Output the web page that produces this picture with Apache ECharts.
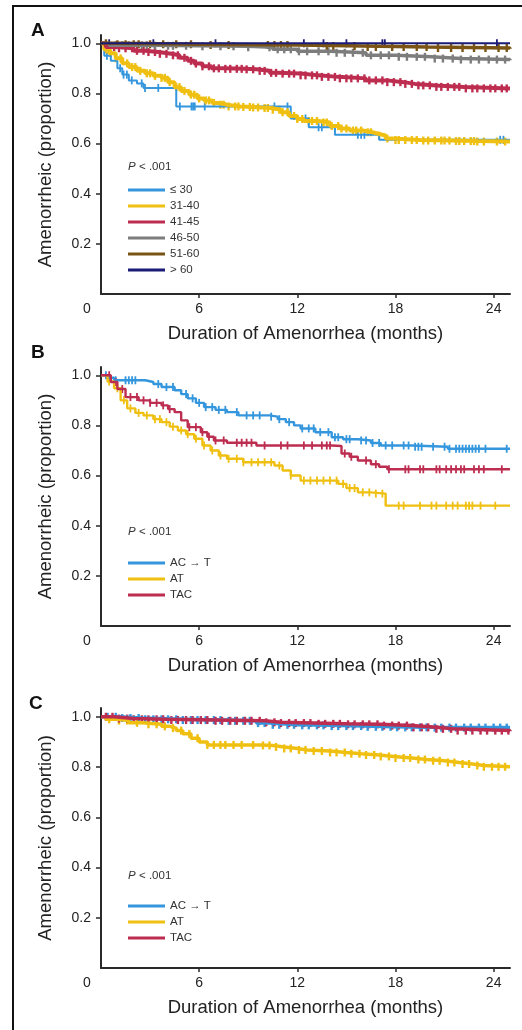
<!DOCTYPE html>
<html>
<head>
<meta charset="utf-8">
<script src="https://cdn.jsdelivr.net/npm/echarts@6/dist/echarts.min.js"></script>
<style>
html,body{margin:0;padding:0;background:#fff;}
#chart{width:522px;height:1030px;}
</style>
</head>
<body>
<div id="chart"></div>
<script>
// ---------- tick labels ----------
const monthTicks = [0, 6, 12, 18, 24];
const propTicks = [0.2, 0.4, 0.6, 0.8, 1.0];
const xTitle = 'Duration of Amenorrhea (months)';
const yTitle = 'Amenorrheic (proportion)';
const pText = '< .001';

// ---------- Panel A: age groups ----------
const namesA = ['≤ 30', '31-40', '41-45', '46-50', '51-60', '> 60'];
const A_le30 = [[0,1],[0.2,0.95],[0.6,0.93],[1.0,0.9],[1.3,0.875],[1.7,0.852],[2.2,0.84],[2.6,0.822],[4.6,0.748],[11.6,0.7],[12.7,0.665],[14.3,0.635],[17.0,0.615],[25,0.615]];
const A_31_40 = [[0,1],[0.2,0.975],[0.5,0.96],[0.9,0.94],[1.3,0.92],[1.7,0.905],[2.2,0.89],[2.7,0.88],[3.2,0.87],[3.7,0.862],[4.1,0.845],[4.5,0.825],[4.9,0.81],[5.4,0.795],[5.9,0.78],[6.3,0.772],[6.8,0.762],[7.3,0.755],[7.7,0.748],[8.5,0.746],[9.3,0.744],[9.8,0.742],[10.4,0.735],[11.0,0.725],[11.5,0.71],[12.0,0.698],[12.4,0.69],[13.3,0.684],[14.0,0.67],[14.6,0.66],[15.2,0.652],[16.0,0.645],[16.6,0.638],[17.0,0.632],[17.4,0.62],[17.8,0.614],[19.5,0.612],[21.5,0.61],[23.0,0.608],[25,0.608]];
const A_41_45 = [[0,1],[0.3,0.985],[1.0,0.98],[2.0,0.97],[2.7,0.965],[3.5,0.958],[4.3,0.952],[4.8,0.942],[5.3,0.93],[5.7,0.919],[6.2,0.908],[6.75,0.9],[7.5,0.898],[8.8,0.896],[9.5,0.89],[10.3,0.882],[10.8,0.879],[12.2,0.872],[13.3,0.866],[14.5,0.86],[16.2,0.852],[17.5,0.845],[18.5,0.838],[19.2,0.832],[20.5,0.826],[22.2,0.82],[25,0.818]];
const A_46_50 = [[0,1],[0.5,0.992],[3,0.99],[6,0.988],[9,0.984],[10.5,0.976],[12,0.968],[14,0.962],[16.2,0.952],[18,0.946],[20.2,0.939],[22,0.935],[25,0.932]];
const A_51_60 = [[0,1],[1,0.996],[6,0.993],[12,0.989],[16,0.985],[20,0.981],[25,0.978]];
const A_gt60 = [[0,1],[25,1]];

const A_le30_cens = [0.36,1.17,1.38,1.58,1.88,2.49,2.69,3.5,4.82,5.53,5.63,5.73,6.34,10.6,11.4,12.5,13.3,13.5,15.7,15.9,16.1,24.4,24.6];
const A_31_40_cens = [0.3,0.6,0.9,1.2,1.6,1.9,2.1,2.4,2.8,3.0,3.3,3.7,3.9,4.2,4.6,4.8,5.1,5.5,5.7,6.0,6.4,6.6,6.9,7.3,7.5,7.8,8.2,8.4,8.7,9.1,9.3,9.6,10.0,10.2,10.5,10.9,11.1,11.4,11.8,12.0,12.3,12.7,12.9,13.2,13.6,13.8,14.1,14.5,14.7,15.0,15.4,15.6,15.9,16.3,16.5,17.0,17.5,18.0,18.2,18.6,19.0,19.3,19.7,20.0,20.4,20.8,21.0,21.3,21.7,21.9,22.2,22.6,22.8,23.0,23.4,24.2,24.7];
const A_41_45_cens = [0.4,0.8,1.1,1.5,1.9,2.2,2.6,2.9,3.3,3.6,4.0,4.4,4.7,5.1,5.5,5.8,6.2,6.6,6.9,7.2,7.6,7.9,8.3,8.6,8.9,9.3,9.7,10.0,10.4,10.7,11.1,11.5,11.8,12.2,12.5,12.9,13.2,13.5,13.9,14.3,14.6,15.0,15.3,15.7,16.1,16.4,16.8,17.2,17.5,17.9,18.3,18.6,19.0,19.4,19.7,20.1,20.5,20.8,21.2,21.6,21.9,22.3,22.7,23.0,23.4,23.8,24.1,24.5,24.8];
const A_46_50_cens = [0.5,0.9,1.3,1.7,2.5,2.8,3.3,4.1,4.4,5.2,6.2,7.3,8.1,9.0,10.3,10.8,11.2,11.6,12.1,12.6,13.3,13.9,14.4,14.9,15.4,16.0,16.5,17.1,17.6,18.2,18.7,19.3,19.8,20.4,20.9,21.5,22.0,22.6,23.1,23.7,24.2,24.7];
const A_51_60_cens = [0.3,1.0,1.5,2.0,2.3,3.0,3.8,4.6,5.5,6.7,7.8,10.2,10.6,11.0,11.4,13.8,14.2,15.5,16.3,16.8,17.8,18.5,19.3,19.9,20.6,21.4,22.1,22.8,23.5,24.3,24.8];
const A_gt60_cens = [0.5,3.2,7.0,12.4,13.6,15.0,17.2,17.35,24.2];

// ---------- Panel B: regimens ----------
const namesBC = ['AC → T', 'AT', 'TAC'];
const B_ACT = [[0,1],[0.4,0.99],[0.8,0.98],[2.7,0.973],[3.2,0.965],[3.7,0.953],[4.5,0.94],[4.9,0.925],[5.3,0.908],[5.8,0.89],[6.3,0.873],[7.0,0.862],[7.7,0.853],[8.4,0.84],[10.3,0.835],[10.8,0.825],[11.3,0.813],[11.8,0.8],[12.2,0.788],[13.1,0.773],[14.1,0.753],[14.8,0.745],[15.7,0.74],[16.5,0.73],[17.1,0.72],[19.0,0.715],[21.2,0.707],[25,0.707]];
const B_AT = [[0,1],[0.4,0.975],[0.8,0.948],[1.2,0.9],[1.6,0.868],[2.1,0.85],[2.6,0.84],[3.2,0.825],[3.7,0.813],[4.2,0.795],[4.7,0.78],[5.2,0.765],[5.7,0.747],[6.2,0.72],[6.7,0.7],[7.2,0.68],[7.7,0.667],[8.7,0.653],[10.6,0.64],[11.1,0.62],[11.6,0.6],[12.2,0.58],[14.5,0.567],[15.0,0.55],[15.7,0.533],[16.5,0.528],[17.4,0.48],[25,0.48]];
const B_TAC = [[0,1],[0.6,0.973],[1.0,0.945],[1.5,0.913],[2.3,0.9],[3.0,0.89],[3.7,0.88],[4.1,0.865],[4.5,0.853],[4.9,0.82],[5.3,0.793],[6.1,0.773],[6.5,0.755],[6.9,0.74],[7.7,0.731],[9.5,0.72],[14.1,0.718],[14.7,0.688],[15.2,0.675],[15.7,0.66],[16.5,0.645],[17.0,0.635],[17.5,0.625],[25,0.625]];

const B_ACT_cens = [0.3,0.9,1.5,1.7,1.9,2.1,3.5,4.0,4.4,5.2,5.6,6.0,6.4,6.8,7.2,7.6,8.3,8.9,9.3,9.7,10.4,10.9,11.5,12.3,12.7,13.0,13.4,13.9,14.3,14.5,15.0,15.2,15.9,16.2,16.6,17.0,17.4,17.8,18.5,18.8,19.2,19.4,19.6,20.3,21.0,21.3,21.7,21.9,22.1,22.3,22.5,22.7,22.9,23.1,23.5,24.8];
const B_AT_cens = [0.5,1.0,1.4,1.8,2.3,2.8,3.3,3.6,4.0,4.4,4.9,5.3,5.8,6.3,6.8,7.3,7.8,8.3,8.7,9.2,9.6,10.0,10.4,10.9,11.6,12.4,12.8,13.2,13.6,14.0,14.4,14.8,15.2,15.5,16.0,16.4,16.8,17.2,18.2,18.5,19.5,20.2,20.5,21.1,21.5,21.8,22.3,22.5,22.7,23.2,24.1];
const B_TAC_cens = [0.5,0.9,1.3,1.8,2.2,2.6,3.0,3.4,3.8,4.2,5.4,5.8,6.2,6.6,7.0,7.5,8.3,8.6,8.9,9.2,10.0,11.0,11.4,12.4,12.9,13.5,13.8,14.0,14.9,15.3,16.2,16.8,17.6,18.6,18.8,19.5,19.7,20.5,20.7,21.1,21.4,21.7,22.0,22.2,22.8,23.1,23.4,24.5];

// ---------- Panel C: regimens ----------
const C_ACT = [[0,1],[1.0,0.995],[2.5,0.99],[5,0.987],[7.5,0.984],[9.5,0.975],[10.3,0.968],[12,0.966],[14,0.963],[16,0.96],[18,0.958],[20,0.957],[25,0.955]];
const C_AT = [[0,1],[0.3,0.99],[1.0,0.985],[1.7,0.976],[2.5,0.97],[3.7,0.962],[4.2,0.955],[4.6,0.945],[5.0,0.932],[5.5,0.915],[6.0,0.9],[6.5,0.888],[9.8,0.886],[10.5,0.88],[11.2,0.874],[12.0,0.868],[12.6,0.864],[14.0,0.858],[15.0,0.853],[15.9,0.848],[17.0,0.842],[17.9,0.836],[19.0,0.83],[19.9,0.825],[21.0,0.818],[21.9,0.812],[22.7,0.806],[23.4,0.801],[25,0.8]];
const C_TAC = [[0,1],[0.8,0.993],[2,0.99],[4,0.987],[7,0.984],[10,0.978],[11,0.975],[13,0.972],[15,0.97],[17,0.965],[19,0.958],[20.5,0.952],[21.5,0.945],[25,0.942]];

const C_ACT_cens = [0.4,0.9,1.3,1.8,2.3,2.7,3.2,3.7,4.1,4.6,5.0,5.5,5.9,6.4,6.9,7.3,7.8,8.2,8.7,9.1,9.6,10.0,10.5,10.9,11.4,11.8,12.3,12.7,13.2,13.6,14.1,14.5,15.0,15.4,15.9,16.3,16.8,17.2,17.7,18.1,18.6,19.0,19.5,19.9,20.4,20.8,21.3,21.7,22.2,22.6,23.1,23.5,24.0,24.4,24.8];
const C_AT_cens = [0.5,1.1,1.6,2.2,2.9,3.4,3.9,4.4,4.9,5.4,5.9,6.5,6.9,7.3,7.6,8.1,8.6,9.3,9.9,10.3,10.7,11.2,11.6,12.1,12.5,13.0,13.5,14.0,14.4,14.9,15.3,15.8,16.2,16.7,17.1,17.6,18.0,18.5,18.9,19.4,19.8,20.3,20.7,21.2,21.6,22.1,22.5,23.0,23.4,23.9,24.3,24.7];
const C_TAC_cens = [0.3,0.7,1.1,1.6,2.0,2.5,2.9,3.4,3.8,4.3,4.7,5.2,5.6,6.1,6.5,7.0,7.4,7.9,8.3,8.8,9.2,9.7,10.1,10.6,11.0,11.5,11.9,12.4,12.8,13.3,13.7,14.2,14.6,15.1,15.5,16.0,16.4,16.9,17.3,17.8,18.2,18.7,19.1,19.6,20.0,20.5,20.9,21.4,21.8,22.3,22.7,23.2,23.6,24.1,24.5,24.9];

// ---------- styling ----------
const COL = {
  blue: '#3496dd', yellow: '#efc012', red: '#bd2d50',
  gray: '#7d7d7d', brown: '#7a5414', navy: '#1b1b78'
};
const FONT = '"Liberation Sans", Arial, sans-serif';
const AXIS_COLOR = '#2a2a2a';

function stepAt(curve, t) {
  let v = curve[0][1];
  for (const p of curve) { if (p[0] <= t) v = p[1]; else break; }
  return v;
}

const grids = [
  { left: 101, top: 35, width: 409, height: 259 },
  { left: 101, top: 367, width: 409, height: 259 },
  { left: 101, top: 708, width: 409, height: 260 }
];
const yMax = [1.033, 1.033, 1.035];

function makeX(i) {
  return {
    type: 'value', gridIndex: i, min: 0, max: 25,
    name: xTitle, nameLocation: 'middle', nameGap: 30,
    nameTextStyle: { fontFamily: FONT, fontSize: 18.5, color: '#222' },
    axisLine: { lineStyle: { color: AXIS_COLOR, width: 2 } },
    axisTick: { show: true, length: 4, lineStyle: { color: AXIS_COLOR, width: 1.5 },
                customValues: monthTicks.filter(v => v > 0) },
    axisLabel: {
      customValues: monthTicks, margin: 8,
      fontFamily: FONT, fontSize: 14, color: '#222',
      formatter: v => v === 0 ? '{z|0}' : String(v),
      rich: { z: { fontFamily: FONT, fontSize: 14, color: '#222', padding: [0, 28, 0, 0] } }
    },
    splitLine: { show: false }
  };
}
function makeY(i) {
  return {
    type: 'value', gridIndex: i, min: 0, max: yMax[i],
    name: yTitle, nameLocation: 'middle', nameGap: 46,
    nameTextStyle: { fontFamily: FONT, fontSize: 18.5, color: '#222' },
    axisLine: { show: true, lineStyle: { color: AXIS_COLOR, width: 2 } },
    axisTick: { show: true, length: 5, lineStyle: { color: AXIS_COLOR, width: 1.5 }, customValues: propTicks },
    axisLabel: { customValues: propTicks, margin: 10, fontFamily: FONT, fontSize: 14, color: '#222',
                 formatter: v => v.toFixed(1) },
    splitLine: { show: false }
  };
}

const series = [];
function addKM(gi, name, curve, cens, color, lw, mark) {
  series.push({
    type: 'line', name: name, xAxisIndex: gi, yAxisIndex: gi,
    data: curve, step: 'end', showSymbol: false, symbol: 'none',
    lineStyle: { color: color, width: lw }, itemStyle: { color: color },
    animation: false, silent: true
  });
  series.push({
    type: 'scatter', name: name + ' censored', xAxisIndex: gi, yAxisIndex: gi,
    data: cens.map(t => [t, stepAt(curve, t)]),
    symbol: 'rect', symbolSize: mark,
    itemStyle: { color: color, opacity: 1 },
    animation: false, silent: true
  });
}

const thin = [1.8, 8], thick = [2.4, 8];
addKM(0, namesA[0], A_le30, A_le30_cens, COL.blue, 2, thin);
addKM(0, namesA[1], A_31_40, A_31_40_cens, COL.yellow, 4, thick);
addKM(0, namesA[2], A_41_45, A_41_45_cens, COL.red, 4, thick);
addKM(0, namesA[3], A_46_50, A_46_50_cens, COL.gray, 3.5, thick);
addKM(0, namesA[4], A_51_60, A_51_60_cens, COL.brown, 3.5, thick);
addKM(0, namesA[5], A_gt60, A_gt60_cens, COL.navy, 2, thin);

addKM(1, namesBC[0], B_ACT, B_ACT_cens, COL.blue, 2.4, thin);
addKM(1, namesBC[1], B_AT, B_AT_cens, COL.yellow, 2.4, thin);
addKM(1, namesBC[2], B_TAC, B_TAC_cens, COL.red, 2.4, thin);

addKM(2, namesBC[0], C_ACT, C_ACT_cens, COL.blue, 3.5, thick);
addKM(2, namesBC[1], C_AT, C_AT_cens, COL.yellow, 3.5, thick);
addKM(2, namesBC[2], C_TAC, C_TAC_cens, COL.red, 3.5, thick);

function makeLegend(names, top) {
  return {
    data: names, orient: 'vertical', left: 128, top: top, padding: 0,
    itemWidth: 37, itemHeight: 3, itemGap: 4, icon: 'rect', selectedMode: false,
    textStyle: { fontFamily: FONT, fontSize: 11.5, color: '#333', lineHeight: 12 }
  };
}

function pLabel(y) {
  return {
    type: 'text', left: 128, top: y - 7,
    style: {
      text: '{i|P} {n|' + pText + '}',
      rich: {
        i: { fontFamily: FONT, fontStyle: 'italic', fontSize: 11.5, fill: '#333' },
        n: { fontFamily: FONT, fontSize: 11.5, fill: '#333' }
      }
    }
  };
}
function panelLetter(t, x, y) {
  return { type: 'text', left: x, top: y,
    style: { text: t, fontFamily: FONT, fontWeight: 'bold', fontSize: 19, fill: '#111' } };
}

const chart = echarts.init(document.getElementById('chart'), null, { renderer: 'canvas' });
chart.setOption({
  backgroundColor: '#fff',
  animation: false,
  grid: grids,
  xAxis: [makeX(0), makeX(1), makeX(2)],
  yAxis: [makeY(0), makeY(1), makeY(2)],
  legend: [makeLegend(namesA, 184), makeLegend(namesBC, 557), makeLegend(namesBC, 900)],
  series: series,
  graphic: [
    { type: 'rect', shape: { x: 13, y: 6, width: 520, height: 1040 },
      style: { fill: 'none', stroke: '#111', lineWidth: 2 }, silent: true },
    panelLetter('A', 31, 21),
    panelLetter('B', 31, 343),
    panelLetter('C', 29, 694),
    pLabel(168), pLabel(533), pLabel(877)
  ]
});
</script>
</body>
</html>
